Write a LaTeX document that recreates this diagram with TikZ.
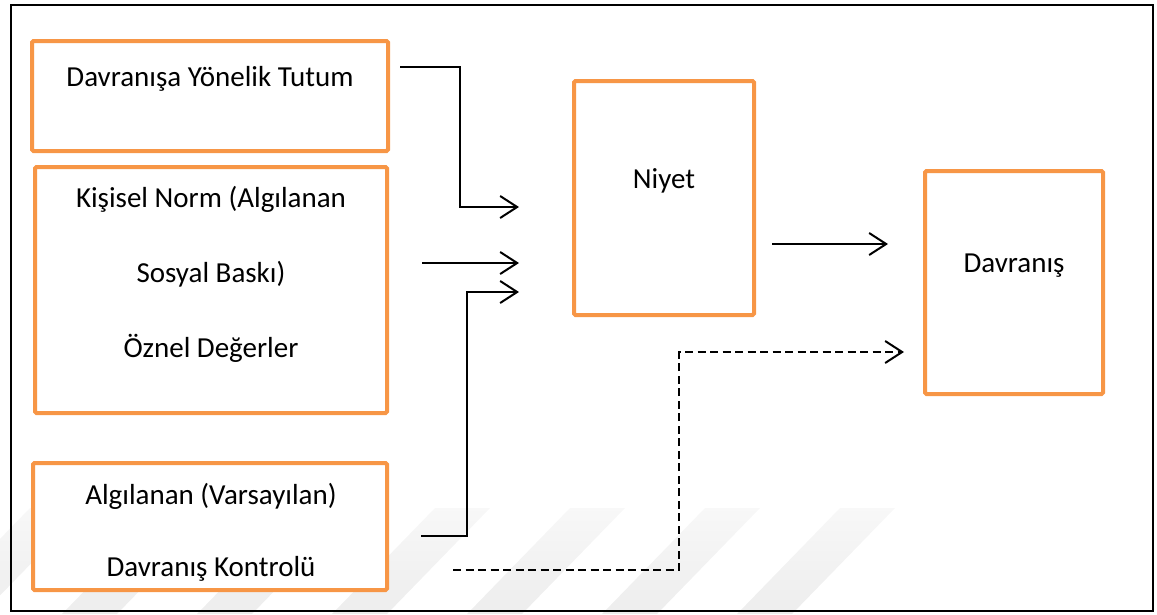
\documentclass[tikz,border=0pt]{standalone}
\usepackage{fontspec}
\setmainfont{Carlito}
\usetikzlibrary{arrows.meta}
\definecolor{boxorange}{HTML}{F79646}
\definecolor{wmgray}{HTML}{EDEDED}
\tikzset{
  box/.style={draw=boxorange, line width=4pt, fill=white, rounded corners=1.5pt, inner sep=0pt},
  lbl/.style={anchor=base, inner sep=0pt, font=\fontsize{29}{35}\selectfont},
  conn/.style={line width=2pt, -{Straight Barb[length=17pt,width=22pt]}},
  dconn/.style={conn, dash pattern=on 8pt off 4.5pt}
}
\begin{document}
\begin{tikzpicture}[x=1pt,y=-1pt]
\useasboundingbox (0,0) rectangle (1157,614);
% watermark stripes
\begin{scope}
\clip (0,0) rectangle (1157,614);
\foreach \sx in {30,165,300,435,570,705,840}{
  \shade[top color=white!60!wmgray, bottom color=wmgray] (\sx,508) -- (\sx+55,508) -- (\sx-48,614) -- (\sx-103,614) -- cycle;
}
\end{scope}
% outer frame
\draw[line width=2.5pt] (11,5) rectangle (1153,611);
% boxes
\node[box, minimum width=356pt, minimum height=110pt] (tutum) at (210,96) {};
\node[box, minimum width=352pt, minimum height=246pt] (norm) at (211,290) {};
\node[box, minimum width=354pt, minimum height=127pt] (kontrol) at (210,526.5) {};
\node[box, minimum width=180pt, minimum height=234pt] (niyet) at (664,198) {};
\node[box, minimum width=178pt, minimum height=223pt] (davranis) at (1014,282.5) {};
% texts
\node[lbl] (t1) at (210,86) {Davranışa Yönelik Tutum};
\node[lbl] (t2a) at (211,207) {Kişisel Norm (Algılanan};
\node[lbl] (t2b) at (211,282) {Sosyal Baskı)};
\node[lbl] (t2c) at (211,357) {Öznel Değerler};
\node[lbl] (t3a) at (211,504) {Algılanan (Varsayılan)};
\node[lbl] (t3b) at (211,576) {Davranış Kontrolü};
\node[lbl] (t4) at (664,188) {Niyet};
\node[lbl] (t5) at (1014,272) {Davranış};
% connector ends
\coordinate (a1s) at (400,67);
\coordinate (a1e) at (519,207);
\coordinate (a2s) at (422,263);
\coordinate (a2e) at (519,263);
\coordinate (a3s) at (421,536);
\coordinate (a3e) at (519,292);
\coordinate (a4s) at (772,244);
\coordinate (a4e) at (888,244);
\coordinate (ds) at (453,570);
\coordinate (de) at (904,352);
% connectors
\draw[conn] (a1s) -| (460,137) |- (a1e);
\draw[conn] (a2s) -- (a2e);
\draw[conn] (a3s) -| (467,400) |- (a3e);
\draw[conn] (a4s) -- (a4e);
\draw[dconn] (ds) -| (679,450) |- (de);
\end{tikzpicture}
\end{document}
